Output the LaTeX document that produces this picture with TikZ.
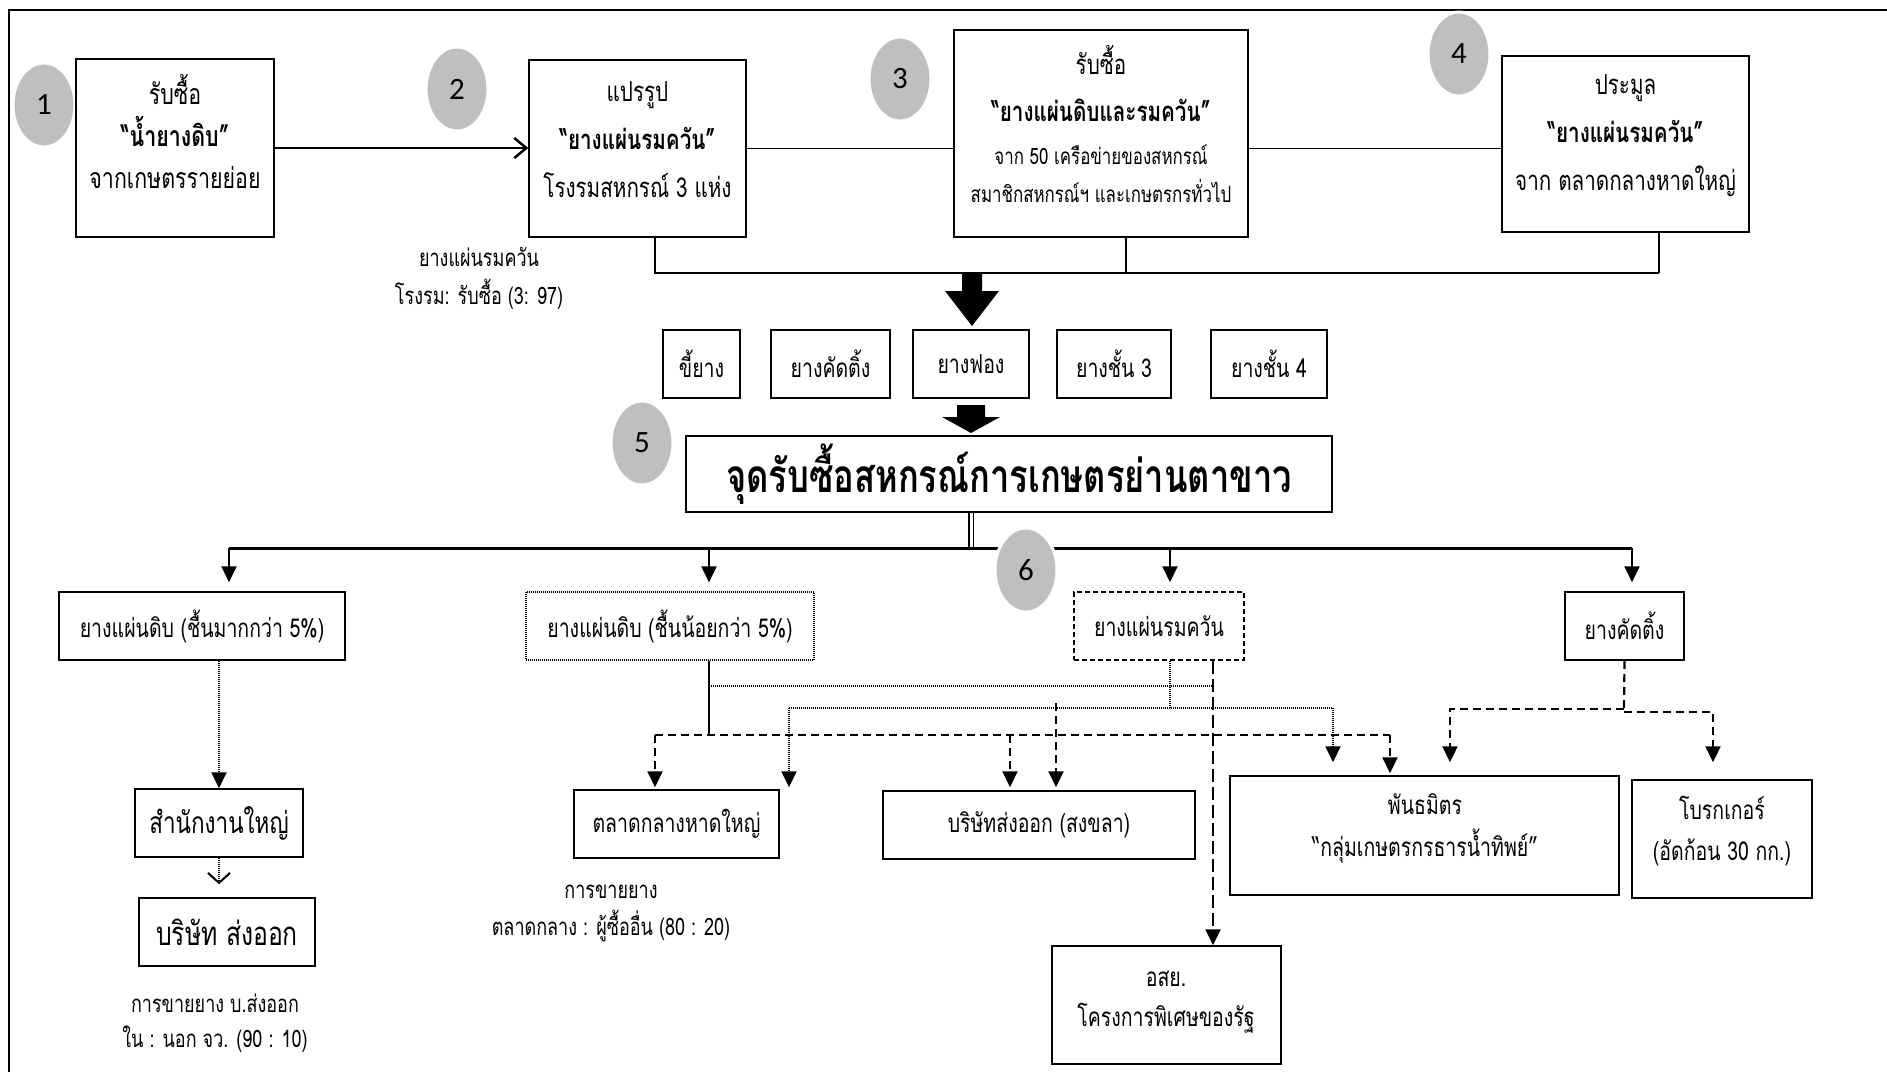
\documentclass[tikz,border=0pt]{standalone}
\usepackage{fontspec}
\setmainfont[Script=Thai,FakeStretch=0.75]{Loma}
\newfontfamily\numfont{Carlito}
\usetikzlibrary{arrows.meta,backgrounds,shapes.geometric}
\definecolor{cgray}{RGB}{191,191,191}
\newcommand\myfs[2]{\fontsize{#1}{#2}\selectfont}
\tikzset{
 box/.style={draw, line width=1.5pt, fill=white, inner sep=0pt},
 num/.style={ellipse, fill=cgray, draw=white, line width=3pt, minimum width=62pt, minimum height=84pt, inner sep=0pt, font=\numfont\myfs{31}{34}},
 txt/.style={inner sep=0pt, align=center},
 tri/.style={-{Triangle[width=15pt,length=16pt]}},
 solidln/.style={line width=2pt},
 dotln/.style={line width=2pt, dash pattern=on 1pt off 1pt},
 dashln/.style={line width=2.2pt, dash pattern=on 8pt off 5pt},
 ldashln/.style={line width=2.2pt, dash pattern=on 13pt off 5pt},
}
\begin{document}
\begin{tikzpicture}[x=1pt,y=-1pt]
\useasboundingbox (0,0) rectangle (1887,1072);

% numbered circles
\node[num] (c1) at (44,105) {1};
\node[num] (c2) at (457,89) {2};
\node[num] (c3) at (900,79) {3};
\node[num] (c4) at (1459,54) {4};
\node[num] (c5) at (642,443) {5};
\node[num] (c6) at (1026,570) {6};

% top row
\node[box, minimum width=198pt, minimum height=178pt] (b1) at (175,148) {};
\node[txt, font=\myfs{28.5}{42}] (b1t) at (175,131) {รับซื้อ\\\textbf{“น้ำยางดิบ”}\\จากเกษตรรายย่อย};
\node[box, minimum width=217pt, minimum height=177pt] (b2) at (637.5,148.5) {};
\node[txt, font=\myfs{27.5}{48}] (b2t) at (637.5,140) {แปรรูป\\\textbf{“ยางแผ่นรมควัน”}\\โรงรมสหกรณ์ 3 แห่ง};
\node[box, minimum width=294pt, minimum height=207pt] (b3) at (1101,133.5) {};
\node[txt, font=\myfs{27.5}{40}] (b3t1) at (1101,60) {รับซื้อ};
\node[txt, font=\myfs{27.5}{40}] (b3t2) at (1101,110) {\textbf{“ยางแผ่นดิบและรมควัน”}};
\node[txt, font=\myfs{22.5}{38}] (b3t3) at (1101,174) {จาก 50 เครือข่ายของสหกรณ์\\สมาชิกสหกรณ์ฯ และเกษตรกรทั่วไป};
\node[box, minimum width=247pt, minimum height=176pt] (b4) at (1625.5,144) {};
\node[txt, font=\myfs{27.5}{48}] (b4t) at (1625.5,136) {ประมูล\\\textbf{“ยางแผ่นรมควัน”}\\จาก ตลาดกลางหาดใหญ่};

\node[txt, font=\myfs{24}{38}] (a1) at (479,278) {ยางแผ่นรมควัน\\โรงรม: รับซื้อ (3: 97)};

% block arrows
\coordinate (ba1) at (972,273);
\fill[shift={(ba1)}] (-10,0) -- (10,0) -- (10,18) -- (27,18) -- (0,53) -- (-27,18) -- (-10,18) -- cycle;
\coordinate (ba2) at (971,405);
\fill[shift={(ba2)}] (-14,0) -- (14,0) -- (14,12) -- (29,12) -- (0,28) -- (-29,12) -- (-14,12) -- cycle;

% grade boxes
\node[box, minimum width=77pt, minimum height=68pt, font=\myfs{26}{30}] (k1) at (701.5,364) {ขี้ยาง};
\node[box, minimum width=119pt, minimum height=68pt, font=\myfs{26}{30}] (k2) at (830.5,364) {ยางคัดติ้ง};
\node[box, minimum width=116pt, minimum height=68pt, font=\myfs{26}{30}] (k3) at (971,364) {ยางฟอง};
\node[box, minimum width=114pt, minimum height=68pt, font=\myfs{26}{30}] (k4) at (1114,364) {ยางชั้น 3};
\node[box, minimum width=116pt, minimum height=68pt, font=\myfs{26}{30}] (k5) at (1269,364) {ยางชั้น 4};

% title
\node[box, minimum width=646pt, minimum height=76pt, font=\bfseries\myfs{46}{50}] (b5) at (1009,474) {จุดรับซื้อสหกรณ์การเกษตรย่านตาขาว};

% row 3
\node[box, minimum width=286pt, minimum height=68pt, font=\myfs{26}{30}] (rA) at (202,626) {ยางแผ่นดิบ (ชื้นมากกว่า 5\%)};
\node[box, line width=1.2pt, dash pattern=on 1pt off 1pt, minimum width=288pt, minimum height=68pt, font=\myfs{26}{30}] (rB) at (670,626) {ยางแผ่นดิบ (ชื้นน้อยกว่า 5\%)};
\node[box, dash pattern=on 5pt off 3pt, minimum width=170pt, minimum height=68pt, font=\myfs{26}{30}] (rC) at (1159,626) {ยางแผ่นรมควัน};
\node[box, minimum width=119pt, minimum height=68pt, font=\myfs{26}{30}] (rD) at (1624.5,626) {ยางคัดติ้ง};

% row 4
\node[box, minimum width=168pt, minimum height=68pt, font=\myfs{30}{34}] (s1) at (219,823) {สำนักงานใหญ่};
\node[box, minimum width=176pt, minimum height=68pt, font=\myfs{33}{36}] (s2) at (227,932) {บริษัท ส่งออก};
\node[txt, font=\myfs{24}{35}] (a3) at (215,1023) {การขายยาง บ.ส่งออก\\ใน : นอก จว. (90 : 10)};
\node[box, minimum width=205pt, minimum height=68pt, font=\myfs{26}{30}] (s3) at (676.5,824) {ตลาดกลางหาดใหญ่};
\node[txt, font=\myfs{24}{37}] (a5) at (611,913) {การขายยาง\\ตลาดกลาง : ผู้ซื้ออื่น (80 : 20)};
\node[box, minimum width=312pt, minimum height=68pt, font=\myfs{26}{30}] (s4) at (1039,825) {บริษัทส่งออก (สงขลา)};
\node[box, minimum width=389pt, minimum height=119pt] (s5) at (1424.5,835.5) {};
\node[txt, font=\myfs{26}{42}] (s5t) at (1425,828) {พันธมิตร\\“กลุ่มเกษตรกรธารน้ำทิพย์”};
\node[box, minimum width=180pt, minimum height=118pt] (s6) at (1722,839) {};
\node[txt, font=\myfs{26}{41}] (s6t) at (1722,831) {โบรกเกอร์\\(อัดก้อน 30 กก.)};
\node[box, minimum width=229pt, minimum height=118pt] (s7) at (1166.5,1005) {};
\node[txt, font=\myfs{26}{40}] (s7t) at (1166,1002) {อสย.\\โครงการพิเศษของรัฐ};

\begin{scope}[on background layer]
% frame
\draw[line width=2pt] (1887,10) -- (9,10) -- (9,1072);
% top connectors
\draw[line width=2.5pt, -{Straight Barb[length=12pt,width=20pt]}] (b1.east) -- (b1.east -| b2.west);
\draw[line width=1.6pt] (b2.east) -- (b2.east -| b3.west);
\draw[line width=1.6pt] (b3.east |- b2.east) -- (b2.east -| b4.west);
\coordinate (jL) at (655,273);
\coordinate (jM) at (1126,273);
\coordinate (jR) at (1659,273);
\draw[line width=2.2pt] (b2.south -| jL) -- (jL) -- (jR);
\draw[line width=1.5pt] (b4.south -| jR) -- (jR);
\draw[line width=1.2pt] (b3.south -| jM) -- (jM);
% distribution
\coordinate (hm) at (971,548);
\coordinate (h1) at (229,548);
\coordinate (h2) at (709,548);
\coordinate (h3) at (1170,548);
\coordinate (h4) at (1632,548);
\draw[line width=1.3pt, double, double distance=3pt] (b5.south -| hm) -- (hm);
\draw[line width=3pt] (h1) -- (h4);
\draw[solidln, tri, shorten >=9pt] (h1) -- (h1 |- rA.north);
\draw[solidln, tri, shorten >=9pt] (h2) -- (h2 |- rB.north);
\draw[solidln, tri, shorten >=9pt] (h3) -- (h3 |- rC.north);
\draw[solidln, tri, shorten >=9pt] (h4) -- (h4 |- rD.north);
% left branch
\draw[dotln, tri] (rA.south -| s1.north) -- (s1.north);
\draw[dotln, -{Straight Barb[length=10pt,width=22pt]}, shorten >=13pt] (s1.south) -- (s1.south |- s2.north);
% middle branches
\coordinate (p1) at (709,735);
\draw[solidln] (rB.south -| p1) -- (p1);
\coordinate (q1) at (709,686);
\coordinate (q2) at (1213,686);
\draw[dotln] (q1) -- (q2);
\draw[ldashln, tri] (rC.south -| q2) -- (q2 |- s7.north);
\coordinate (q3) at (1170,708);
\draw[dotln] (rC.south -| q3) -- (q3);
\coordinate (q4) at (789,708);
\coordinate (q5) at (1333,708);
\draw[dotln] (q4) -- (q5);
\draw[dotln, tri, shorten >=2pt] (q4) -- (q4 |- s3.north);
\draw[dotln, tri, shorten >=13pt] (q5) -- (q5 |- s5.north);
\coordinate (q6) at (1056,703);
\draw[dashln, tri, shorten >=3pt] (q6) -- (q6 |- s4.north);
\coordinate (q7) at (655,735);
\coordinate (q8) at (1390,735);
\coordinate (q9) at (1010,735);
\draw[dashln] (q7) -- (q8);
\draw[dashln, tri, shorten >=2pt] (q7) -- (q7 |- s3.north);
\draw[dashln, tri, shorten >=3pt] (q9) -- (q9 |- s4.north);
\draw[dashln, tri, shorten >=2pt] (q8) -- (q8 |- s5.north);
% right branch
\coordinate (q10) at (1624,709);
\coordinate (q11) at (1450,709);
\coordinate (q12) at (1624,712);
\coordinate (q13) at (1713,712);
\draw[dashln] (rD.south) -- (q10);
\draw[dashln, tri, shorten >=13pt] (q10) -- (q11) -- (q11 |- s5.north);
\draw[dashln, tri, shorten >=17pt] (q12) -- (q13) -- (q13 |- s6.north);
\end{scope}
\end{tikzpicture}
\end{document}
